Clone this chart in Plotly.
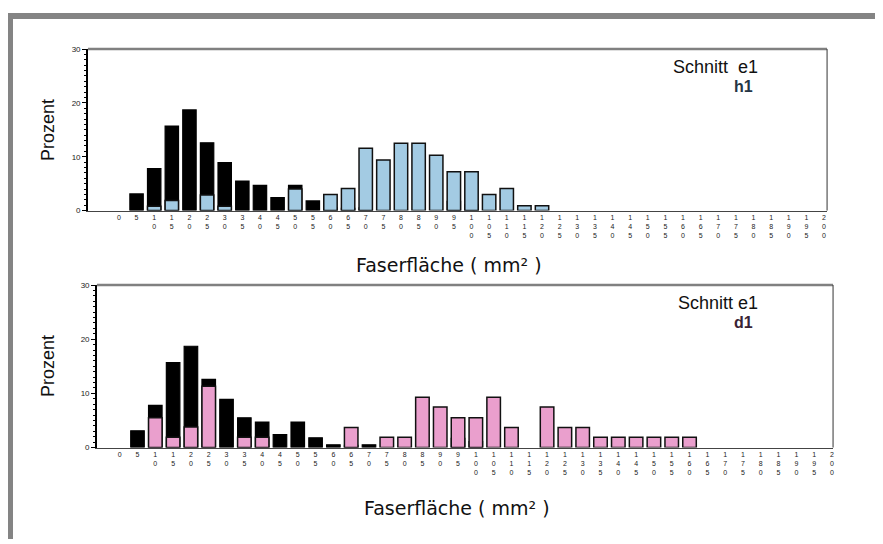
import plotly.graph_objects as go

# ---------------- data ----------------
faser = list(range(0, 205, 5))  # Faserfläche classes (mm²)
tick_labels = ["<br>".join(list(str(v))) for v in faser]

e1 = [0, 3.1, 7.8, 15.7, 18.7, 12.6, 8.9, 5.5, 4.7, 2.4,
      4.7, 1.8, 0.5, 0.4, 0.5, 0, 0, 0, 0, 1.7,
      1.1, 0, 0, 0, 0, 0, 0, 0, 0, 0,
      0, 0, 0, 0, 0, 0, 0, 0, 0, 0, 0]

h1 = [0, 0, 0.8, 1.9, 0, 2.9, 0.8, 0, 0, 0,
      4.0, 0, 3.0, 4.1, 11.6, 9.4, 12.5, 12.5, 10.3, 7.2,
      7.2, 3.0, 4.1, 0.9, 0.9, 0, 0, 0, 0, 0,
      0, 0, 0, 0, 0, 0, 0, 0, 0, 0, 0]

d1 = [0, 0, 5.5, 1.9, 3.8, 11.3, 0, 1.9, 1.9, 0,
      0, 0, 0, 3.7, 0, 1.9, 1.9, 9.3, 7.5, 5.5,
      5.5, 9.3, 3.7, 0, 7.5, 3.7, 3.7, 1.9, 1.9, 1.9,
      1.9, 1.9, 1.9, 0, 0, 0, 0, 0, 0, 0, 0]

y_ticks = [0, 10, 20, 30]

# page has an 8px body margin: figure covers page pixels 8..883 x 8..544
OFF = 8
W, H = 875, 536
BLUE = "#a3cbe3"
PINK = "#ea9fcd"


def nz(vals):
    return [v if v else None for v in vals]


def px(x):
    return (x - OFF) / W


def py(y):
    return 1 - (y - OFF) / H


fig = go.Figure()

BAR_W = 3.8
fig.add_trace(go.Bar(x=faser, y=nz(e1), width=BAR_W, marker=dict(color="black", line=dict(color="black", width=1.2)),
                     xaxis="x", yaxis="y", showlegend=False))
fig.add_trace(go.Bar(x=faser, y=nz(h1), width=BAR_W, marker=dict(color=BLUE, line=dict(color="#111111", width=1.5)),
                     xaxis="x", yaxis="y", showlegend=False))
fig.add_trace(go.Bar(x=faser, y=nz(e1), width=BAR_W, marker=dict(color="black", line=dict(color="black", width=1.2)),
                     xaxis="x2", yaxis="y2", showlegend=False))
fig.add_trace(go.Bar(x=faser, y=nz(d1), width=BAR_W, marker=dict(color=PINK, line=dict(color="#111111", width=1.5)),
                     xaxis="x2", yaxis="y2", showlegend=False))

# panel geometry in page pixels
top = dict(x0=88, x1=828, y0=45.7, y1=210)
bot = dict(x0=97, x1=834, y0=285.7, y1=451)

xtickfont = dict(family="Liberation Sans, Arial, sans-serif", size=7, color="#222222")
ytickfont = dict(family="Liberation Sans, Arial, sans-serif", size=8, color="#222222")


def xaxis_cfg(p, rng):
    return dict(domain=[px(p["x0"]), px(p["x1"])], range=rng, tickmode="array", tickvals=faser,
                ticktext=tick_labels, tickangle=0, tickfont=xtickfont, showgrid=False, zeroline=False,
                showline=True, linecolor="#444444", linewidth=1, ticks="", ticklabelstandoff=0,
                fixedrange=True)


def yaxis_cfg(p, anchor):
    return dict(domain=[py(p["y1"]), py(p["y0"])], range=[0, 30], tickmode="array", tickvals=y_ticks,
                tickfont=ytickfont, showgrid=False, zeroline=False, showline=True, linecolor="black",
                linewidth=1.5, ticks="outside", ticklen=4, tickwidth=1, tickcolor="black",
                minor=dict(dtick=1, ticks="outside", ticklen=2.5, tickwidth=1, tickcolor="black"),
                anchor=anchor, fixedrange=True)


fig.update_layout(
    width=W, height=H, margin=dict(l=0, r=0, t=0, b=0),
    paper_bgcolor="white", plot_bgcolor="white", barmode="overlay",
    xaxis=dict(**xaxis_cfg(top, [-8.8, 200.85]), anchor="y"),
    yaxis=yaxis_cfg(top, "x"),
    xaxis2=dict(**xaxis_cfg(bot, [-6.4, 200.3]), anchor="y2"),
    yaxis2=yaxis_cfg(bot, "x2"),
)

shapes = []
G = "#848484"
shapes.append(dict(type="rect", xref="paper", yref="paper", x0=0, x1=px(13), y0=0, y1=py(9),
                   fillcolor=G, line=dict(width=0)))
shapes.append(dict(type="rect", xref="paper", yref="paper", x0=0, x1=1, y0=py(15), y1=py(9),
                   fillcolor=G, line=dict(width=0)))
shapes.append(dict(type="rect", xref="paper", yref="paper", x0=px(879), x1=px(882), y0=0, y1=py(9),
                   fillcolor=G, line=dict(width=0)))
for p in (top, bot):
    shapes.append(dict(type="line", xref="paper", yref="paper", x0=px(p["x0"]), x1=px(p["x1"]),
                       y0=py(p["y0"]), y1=py(p["y0"]), line=dict(color="#808080", width=2.5)))
    shapes.append(dict(type="line", xref="paper", yref="paper", x0=px(p["x1"]), x1=px(p["x1"]),
                       y0=py(p["y0"]), y1=py(p["y1"]), line=dict(color="#333333", width=1)))
fig.update_layout(shapes=shapes)

ann = []
TF = "Liberation Sans, Arial, sans-serif"
for cy in (128, 368):
    ann.append(dict(text="Prozent", xref="paper", yref="paper", x=px(48), y=py(cy), showarrow=False,
                    textangle=-90, font=dict(family=TF, size=18, color="#111111"),
                    xanchor="center", yanchor="middle"))
for cx, cy in ((450, 265), (458, 512)):
    ann.append(dict(text="Faserfläche ( mm² )", xref="paper", yref="paper", x=px(cx), y=py(cy),
                    showarrow=False, font=dict(family="DejaVu Sans, sans-serif", size=19, color="#111111"),
                    xanchor="center", yanchor="middle"))
ann.append(dict(text="Schnitt  e1", xref="paper", yref="paper", x=px(761), y=py(64), showarrow=False,
                font=dict(family=TF, size=18, color="#111111"), xanchor="right", yanchor="middle"))
ann.append(dict(text="<b>h1</b>", xref="paper", yref="paper", x=px(756), y=py(84), showarrow=False,
                font=dict(family=TF, size=16, color="#253545"), xanchor="right", yanchor="middle"))
ann.append(dict(text="Schnitt e1", xref="paper", yref="paper", x=px(761), y=py(304), showarrow=False,
                font=dict(family=TF, size=18, color="#111111"), xanchor="right", yanchor="middle"))
ann.append(dict(text="<b>d1</b>", xref="paper", yref="paper", x=px(756), y=py(324), showarrow=False,
                font=dict(family=TF, size=16, color="#3a2334"), xanchor="right", yanchor="middle"))
fig.update_layout(annotations=ann)

fig.write_html("out.html")
